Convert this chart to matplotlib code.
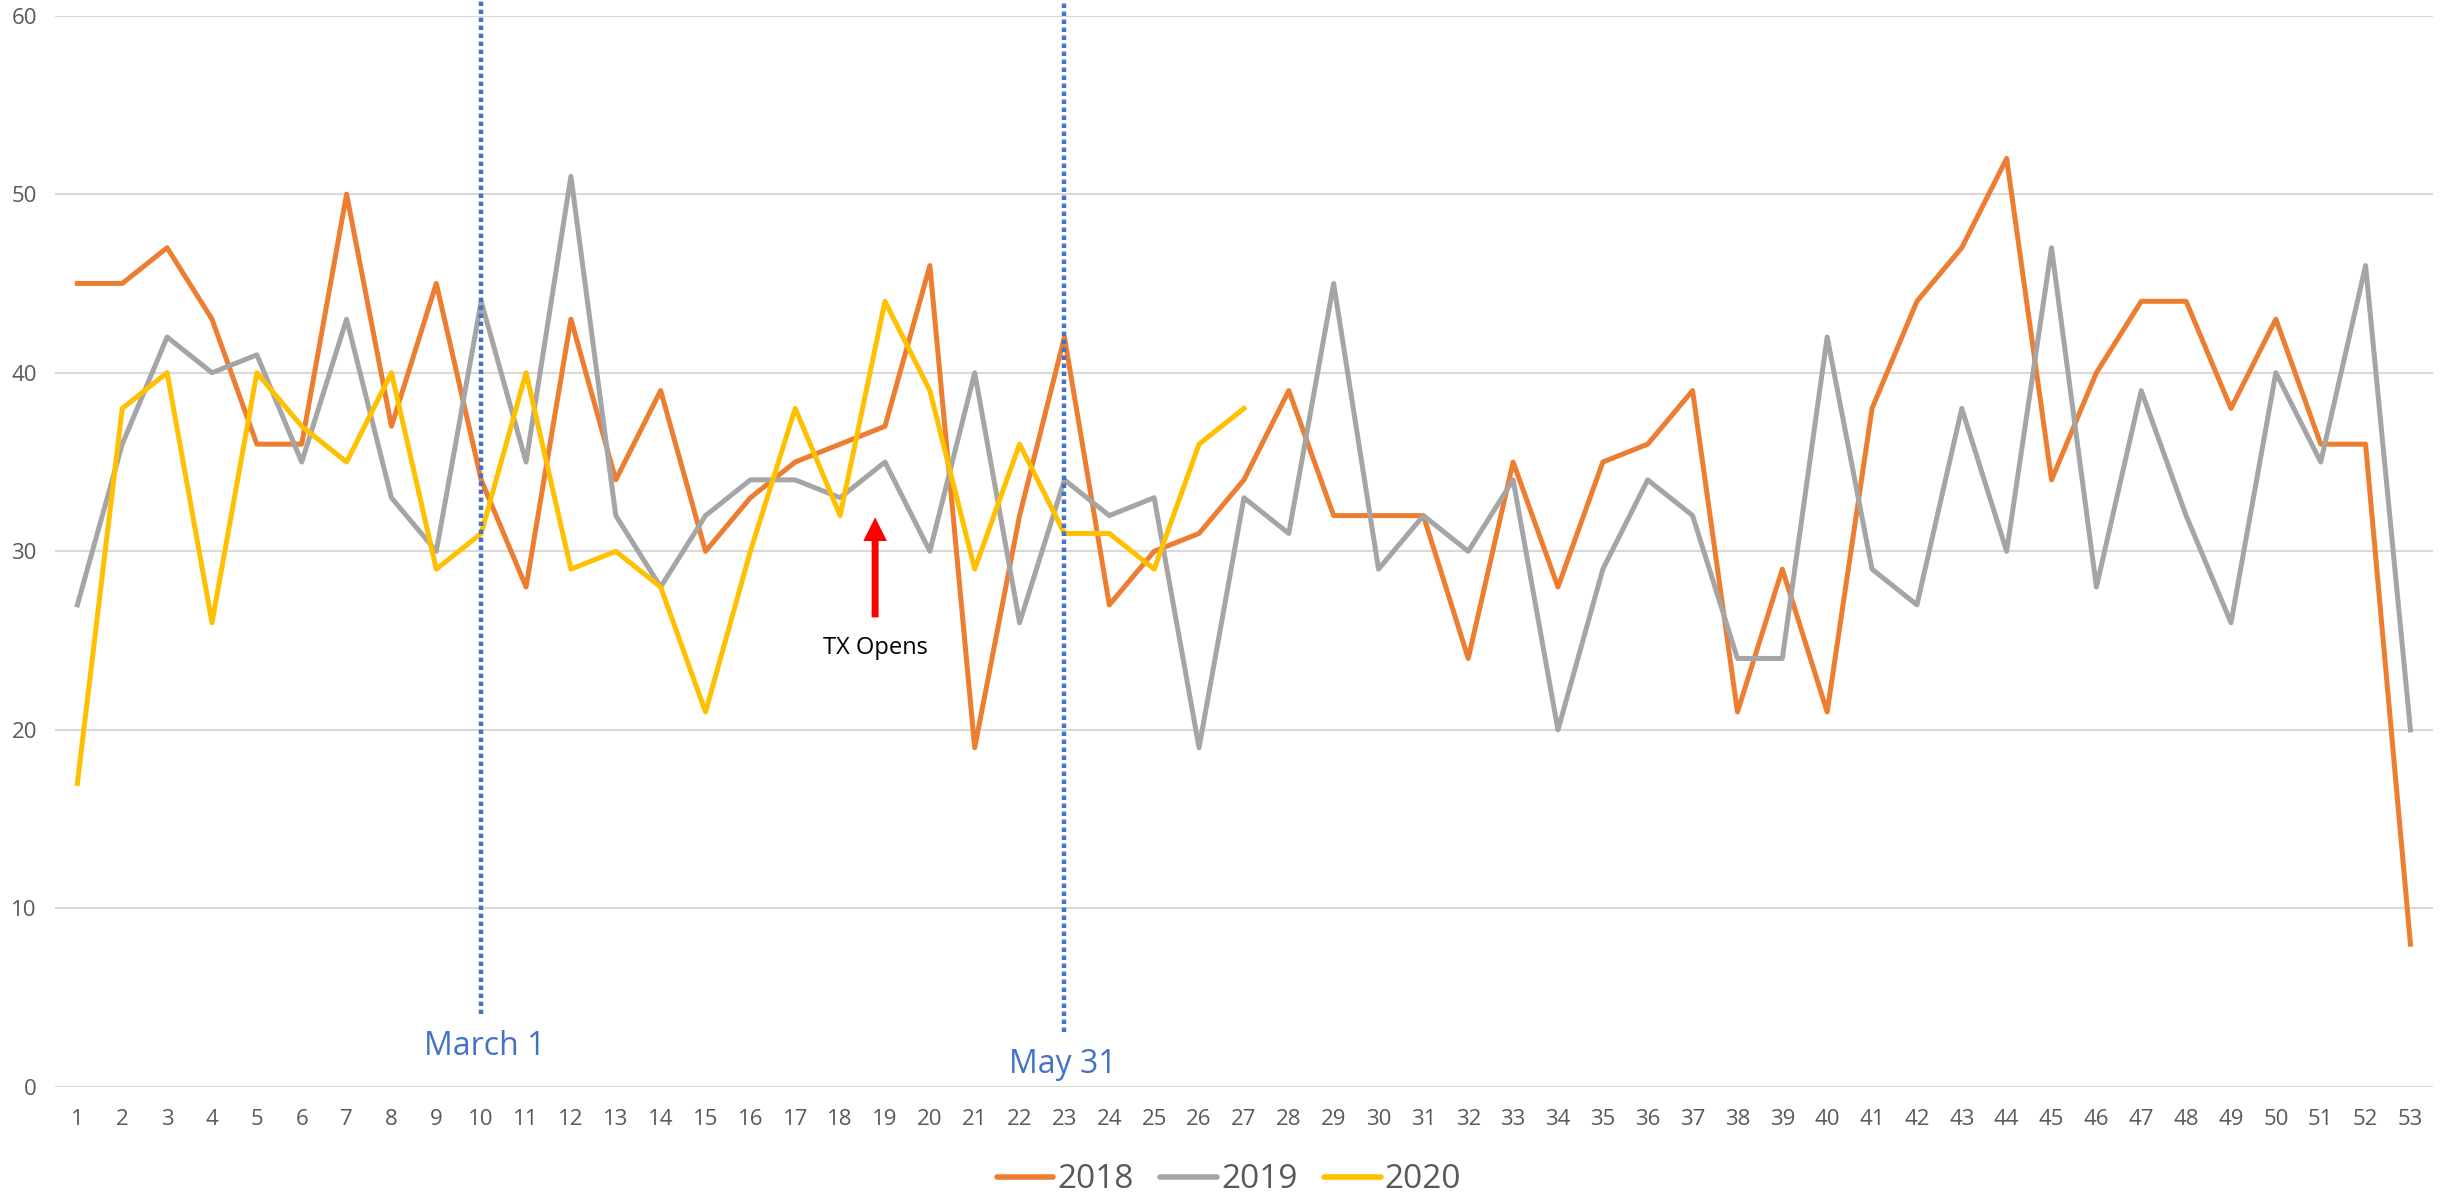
import matplotlib
matplotlib.use("Agg")
import matplotlib.pyplot as plt

# Weekly counts per year (week 1..53)
weeks = list(range(1, 54))
y2018 = [45, 45, 47, 43, 36, 36, 50, 37, 45, 34, 28, 43, 34, 39, 30, 33, 35, 36, 37, 46,
         19, 32, 42, 27, 30, 31, 34, 39, 32, 32, 32, 24, 35, 28, 35, 36, 39, 21, 29, 21,
         38, 44, 47, 52, 34, 40, 44, 44, 38, 43, 36, 36, 8]
y2019 = [27, 36, 42, 40, 41, 35, 43, 33, 30, 44, 35, 51, 32, 28, 32, 34, 34, 33, 35, 30,
         40, 26, 34, 32, 33, 19, 33, 31, 45, 29, 32, 30, 34, 20, 29, 34, 32, 24, 24, 42,
         29, 27, 38, 30, 47, 28, 39, 32, 26, 40, 35, 46, 20]
y2020 = [17, 38, 40, 26, 40, 37, 35, 40, 29, 31, 40, 29, 30, 28, 21, 30, 38, 32, 44, 39,
         29, 36, 31, 31, 29, 36, 38]

# annotation positions (week numbers)
march1_week = 10
may31_week = 23
tx_open_week = 18.78

plt.rcParams['font.family'] = ['Open Sans', 'DejaVu Sans']

fig = plt.figure(figsize=(24.53, 11.99), dpi=100)
ax = fig.add_axes([0.0224, 0.0934, 0.9694, 0.8936])

ax.plot(weeks, y2018, color="#ED7D31", lw=3.6, label="2018", solid_joinstyle="round")
ax.plot(weeks, y2019, color="#A5A5A5", lw=3.6, label="2019", solid_joinstyle="round")
ax.plot(weeks[:len(y2020)], y2020, color="#FFC000", lw=3.6, label="2020", solid_joinstyle="round")

# vertical markers (dotted, running up past the top of the plot)
for wk, bottom in ((march1_week, 4.1), (may31_week, 3.1)):
    ax.plot([wk, wk], [bottom, 61], color="#4472C4", lw=3.2, ls=(0, (1, 0.8)),
            clip_on=False, zorder=5)
ax.text(march1_week + 0.07, 2.25, "March 1", color="#4472C4", fontsize=23,
        ha="center", va="center")
ax.text(may31_week - 0.03, 1.25, "May 31", color="#4472C4", fontsize=23,
        ha="center", va="center")

# TX opens arrow
ax.annotate("", xy=(tx_open_week, 31.9), xytext=(tx_open_week, 26.3),
            arrowprops=dict(facecolor="red", edgecolor="none", width=5,
                            headwidth=17, headlength=17))
ax.text(tx_open_week, 24.6, "TX Opens", fontsize=17, ha="center", va="center", color="black")

ax.set_xlim(0.5, 53.5)
ax.set_ylim(0, 60)
ax.set_xticks(weeks)
ax.set_yticks(range(0, 61, 10))
ax.tick_params(axis="both", length=0, labelsize=16, labelcolor="#595959")
ax.tick_params(axis="x", pad=16)
ax.tick_params(axis="y", pad=13)
ax.grid(axis="y", color="#D9D9D9", lw=1.5)
ax.set_axisbelow(True)
for s in ax.spines.values():
    s.set_visible(False)

leg = fig.legend(loc="center", bbox_to_anchor=(0.501, 0.016), ncol=3, frameon=False,
                 fontsize=24, handlelength=1.7, handletextpad=0.12, columnspacing=0.8)
for line in leg.get_lines():
    line.set_linewidth(4)
    line.set_solid_capstyle("round")
for t in leg.get_texts():
    t.set_color("#595959")

fig.savefig("out.png", dpi=100)
